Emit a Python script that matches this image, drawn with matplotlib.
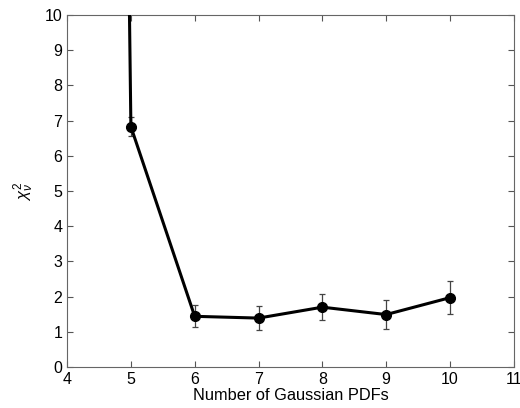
import matplotlib
matplotlib.use("Agg")
import matplotlib.pyplot as plt

plt.rcParams['font.family'] = ['Liberation Sans', 'DejaVu Sans']
plt.rcParams['mathtext.fontset'] = 'custom'
plt.rcParams['mathtext.rm'] = 'Liberation Sans'
plt.rcParams['mathtext.it'] = 'Liberation Sans:italic'

n_pdfs = [4, 5, 6, 7, 8, 9, 10]
chi2 = [150.0, 6.83, 1.44, 1.39, 1.70, 1.49, 1.97]
err = [0.0, 0.26, 0.31, 0.33, 0.37, 0.41, 0.47]

fig = plt.figure(figsize=(5.2, 4.08), dpi=100)
ax = fig.add_axes([0.129, 0.1005, 0.859, 0.8625])

ax.errorbar(n_pdfs[1:], chi2[1:], yerr=err[1:], fmt='none', ecolor='#444444',
            elinewidth=0.9, capsize=2.3, capthick=0.9, zorder=2)
ax.plot(n_pdfs, chi2, color='black', lw=2.2, zorder=3)
ax.plot(n_pdfs[1:], chi2[1:], 'o', color='black', ms=7, zorder=4)

ax.set_xlim(4, 11)
ax.set_ylim(0, 10)
ax.set_xticks(range(4, 12))
ax.set_yticks(range(0, 11))
ax.tick_params(direction='in', top=True, right=True, labelsize=11.5,
               color='#555555', length=4)
for s in ax.spines.values():
    s.set_color('#666666')
ax.set_xlabel('Number of Gaussian PDFs', fontsize=11.8, labelpad=1)
ax.set_ylabel(r'$\chi^2_\nu$', fontsize=12, labelpad=6)

fig.savefig('out.png', dpi=100)
